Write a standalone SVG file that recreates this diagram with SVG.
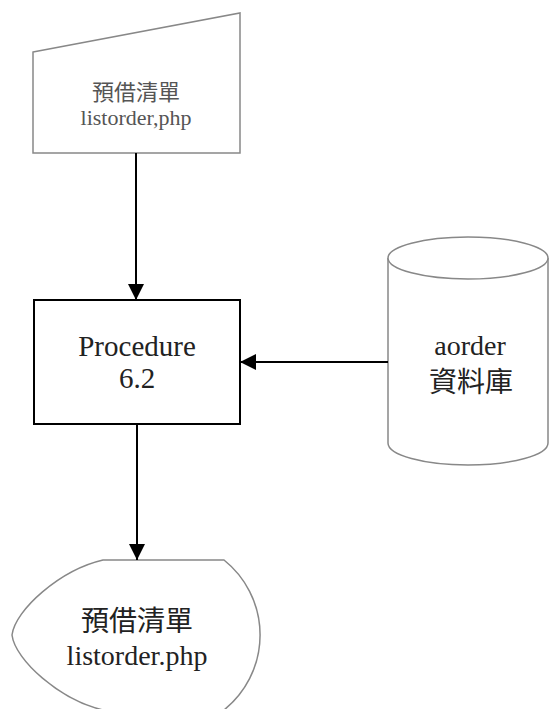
<svg xmlns="http://www.w3.org/2000/svg" width="550" height="709" viewBox="0 0 550 709">
<style>
.t{font-family:"Liberation Serif","Noto Sans CJK TC",serif;text-anchor:middle}
.shape{fill:#fff;stroke:#888;stroke-width:1.5}
.conn{stroke:#000;stroke-width:2;fill:none}
</style>
<defs>
<marker id="ah" markerWidth="16" markerHeight="16" refX="16" refY="8" orient="auto" markerUnits="userSpaceOnUse">
<path d="M0,0 L16,8 L0,16 Z" fill="#000"/>
</marker>
</defs>
<rect width="550" height="709" fill="#fff"/>
<g id="input">
<polygon class="shape" points="33,52 240,13 240,153 33,153"/>
<text class="t" x="136" y="100" font-size="22" fill="#555">預借清單</text>
<text class="t" x="136" y="125" font-size="22" fill="#555">listorder,php</text>
</g>
<g id="procedure">
<rect x="34" y="300" width="206" height="124" fill="#fff" stroke="#000" stroke-width="2"/>
<text class="t" x="137" y="356" font-size="29" fill="#222">Procedure</text>
<text class="t" x="137" y="388" font-size="29" fill="#222">6.2</text>
</g>
<g id="database">
<path class="shape" d="M388,258 L388,443 A80,22 0 0 0 548,443 L548,258 A80,21 0 0 0 388,258 Z"/>
<path class="shape" fill="none" d="M388,258 A80,21 0 0 0 548,258"/>
<text class="t" x="470" y="355" font-size="28" fill="#222">aorder</text>
<text class="t" x="471" y="392" font-size="28" fill="#222">資料庫</text>
</g>
<g id="display">
<path class="shape" d="M103,560 L224,560 A96,96 0 0 1 224,710 L103,710 C60,700 15,660 12,635 C15,610 60,570 103,560 Z"/>
<text class="t" x="137" y="631" font-size="28" fill="#222">預借清單</text>
<text class="t" x="137" y="665" font-size="28" fill="#222">listorder.php</text>
</g>
<g id="connectors">
<line class="conn" x1="136" y1="153" x2="136" y2="300" marker-end="url(#ah)"/>
<line class="conn" x1="388" y1="362" x2="240" y2="362" marker-end="url(#ah)"/>
<line class="conn" x1="137" y1="424" x2="137" y2="560" marker-end="url(#ah)"/>
</g>
</svg>
